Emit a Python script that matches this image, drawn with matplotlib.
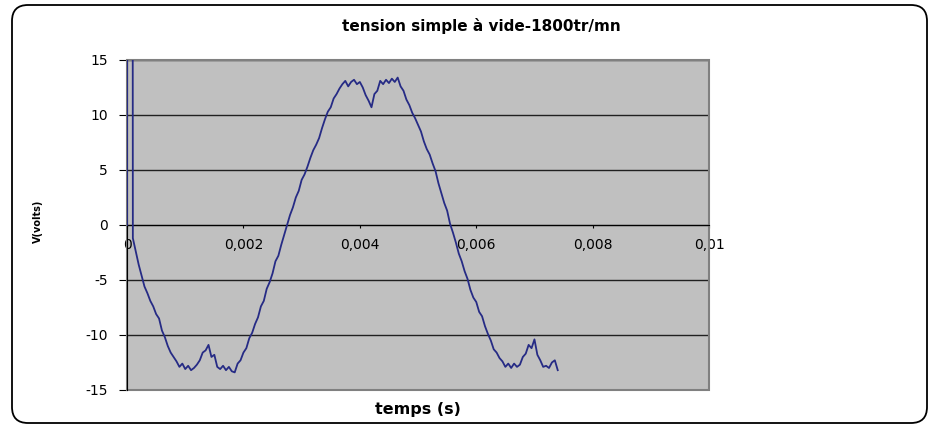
import numpy as np
import matplotlib
matplotlib.use("Agg")
import matplotlib.pyplot as plt
from matplotlib.patches import FancyBboxPatch, Rectangle

# signal relevé (pas d'echantillonnage 50 us)
dt = 0.00005
v = [0.0, 400.0, -1.2, -2.4, -3.6, -4.6, -5.6, -6.2, -6.9, -7.4,
     -8.1, -8.5, -9.6, -10.2, -11.0, -11.6, -12.0, -12.4, -12.9, -12.6,
     -13.1, -12.8, -13.2, -13.0, -12.7, -12.3, -11.6, -11.4, -10.9, -12.0,
     -11.8, -12.9, -13.1, -12.8, -13.2, -12.9, -13.3, -13.4, -12.6, -12.3,
     -11.6, -11.2, -10.3, -9.8, -9.0, -8.4, -7.4, -6.9, -5.8, -5.2,
     -4.4, -3.3, -2.8, -1.8, -0.9, 0.0, 0.9, 1.6, 2.5, 3.1,
     4.1, 4.6, 5.3, 6.1, 6.8, 7.3, 7.9, 8.8, 9.6, 10.3,
     10.7, 11.5, 11.9, 12.4, 12.8, 13.1, 12.6, 13.0, 13.2, 12.8,
     13.0, 12.5, 11.8, 11.3, 10.7, 11.9, 12.2, 13.1, 12.8, 13.2,
     12.9, 13.3, 13.0, 13.4, 12.6, 12.2, 11.4, 10.9, 10.2, 9.7,
     9.1, 8.5, 7.6, 6.9, 6.4, 5.6, 4.9, 3.8, 2.9, 2.0,
     1.3, 0.1, -0.7, -1.6, -2.6, -3.3, -4.2, -4.9, -5.9, -6.6,
     -7.0, -7.9, -8.3, -9.2, -9.9, -10.5, -11.3, -11.6, -12.1, -12.4,
     -12.9, -12.6, -13.0, -12.6, -12.9, -12.7, -12.0, -11.7, -10.9, -11.2,
     -10.4, -11.8, -12.3, -12.9, -12.8, -13.0, -12.5, -12.3, -13.2]
t = np.arange(len(v)) * dt

xticks = [0, 0.002, 0.004, 0.006, 0.008, 0.01]
xlabels = ["0", "0,002", "0,004", "0,006", "0,008", "0,01"]
yticks = [-15, -10, -5, 0, 5, 10, 15]

plt.rcParams['font.family'] = ['DejaVu Sans']

fig = plt.figure(figsize=(9.32, 4.25), dpi=100)
ax = fig.add_axes([0.1363, 0.0824, 0.6245, 0.7765])
ax.set_facecolor('#C0C0C0')

ax.plot(t, v, color='#262B85', lw=1.3, zorder=3)

ax.set_xlim(0, 0.01)
ax.set_ylim(-15, 15)
ax.set_xticks(xticks)
ax.set_xticklabels(xlabels)
ax.set_yticks(yticks)
ax.set_yticklabels([str(y) for y in yticks])

ax.yaxis.grid(True, color='#202020', lw=1.0, zorder=1)
ax.set_axisbelow(True)

ax.spines['top'].set_visible(False)
ax.spines['right'].set_visible(False)
ax.spines['bottom'].set_position(('data', 0))
ax.spines['bottom'].set_color('black')
ax.spines['left'].set_color('black')
ax.add_patch(Rectangle((0, 0), 1, 1, transform=ax.transAxes, fill=False,
                       ec='#808080', lw=1.5, zorder=2, clip_on=False))

ax.tick_params(axis='x', direction='out', length=2.5, pad=7, labelsize=10)
ax.tick_params(axis='y', direction='out', length=6, pad=8, labelsize=10)

fig.text(0.516, 0.94, "tension simple à vide-1800tr/mn", ha='center',
         va='center', fontsize=11, fontweight='bold')
ax.set_xlabel("temps (s)", fontsize=11.5, fontweight='bold')
ax.xaxis.set_label_coords(0.5, -0.035)
fig.text(0.041, 0.48, "V(volts)", rotation=90, ha='center', va='center',
         fontsize=7, fontweight='bold')

fig.patches.append(FancyBboxPatch((12, 2), 915, 418,
                                  boxstyle="round,pad=0,rounding_size=16",
                                  transform=None, fill=False, ec='black', lw=1.3))

fig.savefig("out.png", dpi=100)
